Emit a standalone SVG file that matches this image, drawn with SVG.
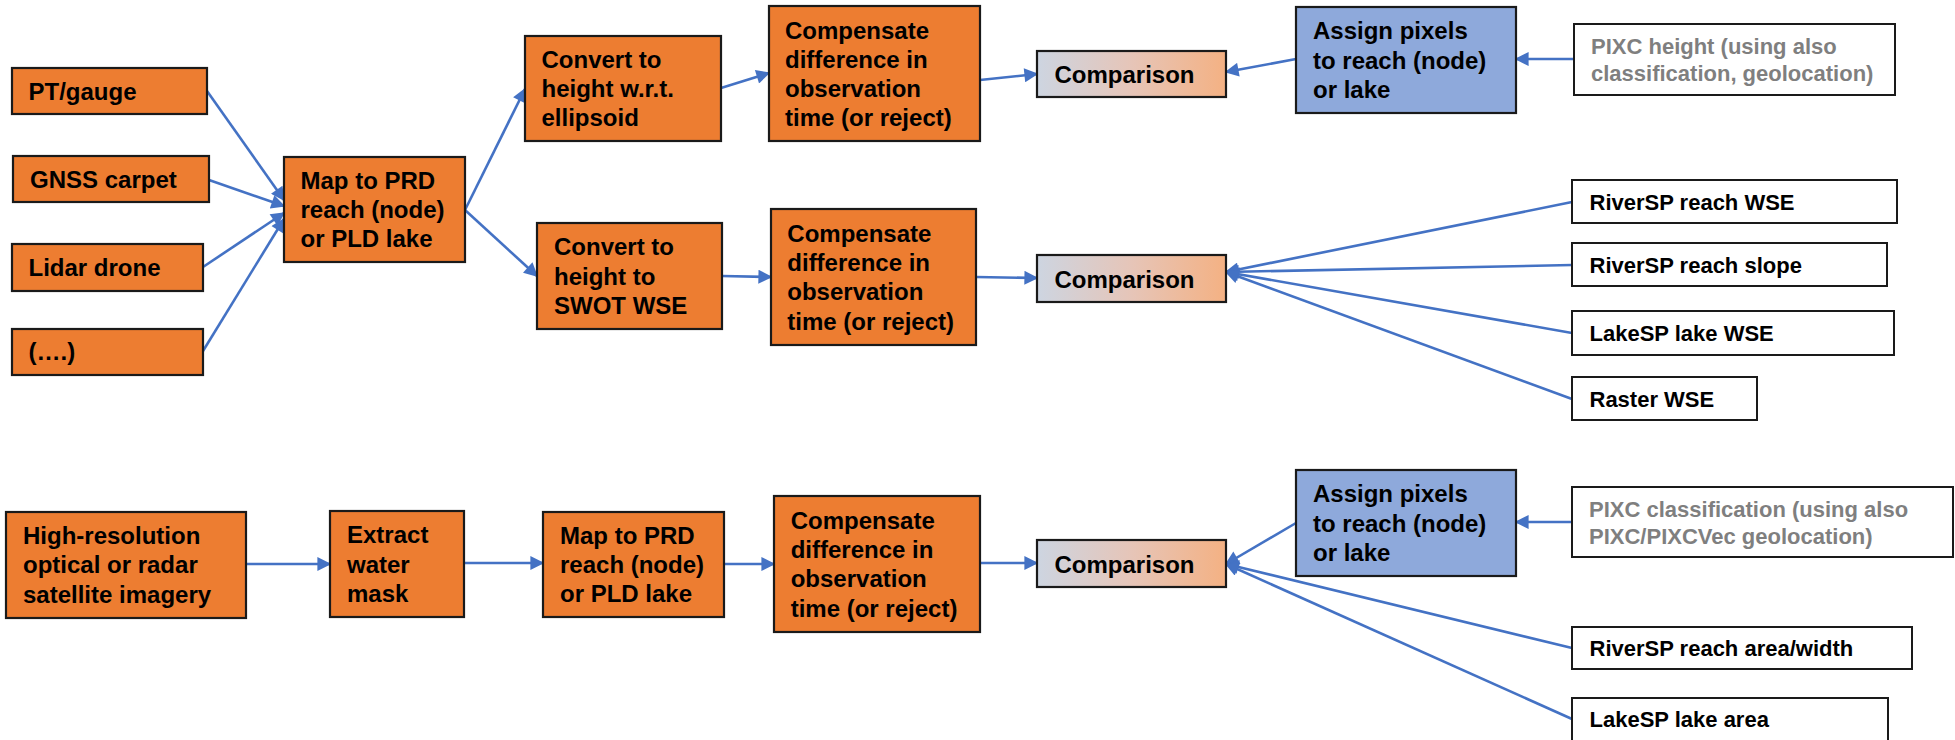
<svg xmlns="http://www.w3.org/2000/svg" width="1955" height="740" viewBox="0 0 1955 740">
<style>
text{font-family:"Liberation Sans",Arial,sans-serif;font-weight:bold;font-size:24px;fill:#000}
.o{fill:#ED7D31;stroke:#1a1a1a;stroke-width:2.2}
.b{fill:#8EA9DB;stroke:#1a1a1a;stroke-width:2.2}
.w{fill:#fff;stroke:#1a1a1a;stroke-width:2}
.c{fill:url(#grad);stroke:#1a1a1a;stroke-width:2.2}
.s{font-size:22px}
.g{font-size:22px;fill:#7F7F7F}
#edges line{stroke:#4472C4;stroke-width:2.6;marker-end:url(#ah)}
</style>
<defs>
<linearGradient id="grad" x1="0" y1="0" x2="1" y2="0">
<stop offset="0" stop-color="#CDD5E1"/>
<stop offset="0.5" stop-color="#E6C5B8"/>
<stop offset="1" stop-color="#F4B183"/>
</linearGradient>
<marker id="ah" viewBox="0 0 10 10" refX="9" refY="5" markerUnits="userSpaceOnUse" markerWidth="16" markerHeight="14" orient="auto">
<path d="M0,0 L10,5 L0,10 z" fill="#4472C4"/>
</marker>
</defs>
<rect width="1955" height="740" fill="#fff"/>

<g id="edges">
<line x1="207" y1="91" x2="284" y2="200"/>
<line x1="209" y1="180" x2="284" y2="206"/>
<line x1="203" y1="267" x2="284" y2="213"/>
<line x1="203" y1="351" x2="284" y2="219"/>
<line x1="465" y1="210" x2="525" y2="89"/>
<line x1="465" y1="210" x2="537" y2="276"/>
<line x1="721" y1="88" x2="769" y2="73"/>
<line x1="722" y1="276" x2="771" y2="277"/>
<line x1="980" y1="80" x2="1037" y2="74"/>
<line x1="976" y1="277" x2="1037" y2="278"/>
<line x1="1296" y1="59" x2="1226" y2="72"/>
<line x1="1574" y1="59" x2="1516" y2="59"/>
<line x1="1572" y1="202" x2="1226" y2="272"/>
<line x1="1572" y1="265" x2="1226" y2="272"/>
<line x1="1572" y1="333" x2="1226" y2="272"/>
<line x1="1572" y1="399" x2="1226" y2="272"/>
<line x1="246" y1="564" x2="330" y2="564"/>
<line x1="464" y1="563" x2="543" y2="563"/>
<line x1="724" y1="564" x2="774" y2="564"/>
<line x1="980" y1="563" x2="1037" y2="563"/>
<line x1="1296" y1="523" x2="1226" y2="564"/>
<line x1="1572" y1="522" x2="1516" y2="522"/>
<line x1="1572" y1="648" x2="1226" y2="564"/>
<line x1="1572" y1="719" x2="1226" y2="564"/>
</g>

<g id="pt"><rect class="o" x="12" y="68" width="195" height="46"/><text x="28.5" y="100">PT/gauge</text></g>
<g id="gnss"><rect class="o" x="13" y="156" width="196" height="46"/><text x="30" y="188">GNSS carpet</text></g>
<g id="lidar"><rect class="o" x="12" y="244" width="191" height="47"/><text x="28.5" y="276">Lidar drone</text></g>
<g id="etc"><rect class="o" x="12" y="329" width="191" height="46"/><text x="28.5" y="360">(….)</text></g>

<g id="map1"><rect class="o" x="284" y="157" width="181" height="105"/>
<text x="300.5" y="188.5">Map to PRD</text><text x="300.5" y="218">reach (node)</text><text x="300.5" y="247.3">or PLD lake</text></g>

<g id="conv1"><rect class="o" x="525" y="36" width="196" height="105"/>
<text x="541.5" y="67.5">Convert to</text><text x="541.5" y="97">height w.r.t.</text><text x="541.5" y="126.3">ellipsoid</text></g>

<g id="conv2"><rect class="o" x="537" y="223" width="185" height="106"/>
<text x="554" y="255">Convert to</text><text x="554" y="284.5">height to</text><text x="554" y="313.8">SWOT WSE</text></g>

<g id="comp1"><rect class="o" x="769" y="6" width="211" height="135"/>
<text x="785" y="38.5">Compensate</text><text x="785" y="67.8">difference in</text><text x="785" y="97">observation</text><text x="785" y="126.3">time (or reject)</text></g>

<g id="comp2"><rect class="o" x="771" y="209" width="205" height="136"/>
<text x="787.3" y="241.8">Compensate</text><text x="787.3" y="271">difference in</text><text x="787.3" y="300.3">observation</text><text x="787.3" y="329.6">time (or reject)</text></g>

<g id="cmp1"><rect class="c" x="1037" y="51" width="189" height="46"/><text x="1054.5" y="83">Comparison</text></g>
<g id="cmp2"><rect class="c" x="1037" y="255" width="189" height="47"/><text x="1054.5" y="287.5">Comparison</text></g>

<g id="assign1"><rect class="b" x="1296" y="7" width="220" height="106"/>
<text x="1313" y="39.2">Assign pixels</text><text x="1313" y="68.5">to reach (node)</text><text x="1313" y="97.8">or lake</text></g>

<g id="pixc1"><rect class="w" x="1574" y="24" width="321" height="71"/>
<text class="g" x="1591" y="54">PIXC height (using also</text><text class="g" x="1591" y="81">classification, geolocation)</text></g>

<g id="rwse"><rect class="w" x="1572" y="180" width="325" height="43"/><text class="s" x="1589.5" y="210">RiverSP reach WSE</text></g>
<g id="rslope"><rect class="w" x="1572" y="243" width="315" height="43"/><text class="s" x="1589.5" y="272.5">RiverSP reach slope</text></g>
<g id="lwse"><rect class="w" x="1572" y="311" width="322" height="44"/><text class="s" x="1589.5" y="341">LakeSP lake WSE</text></g>
<g id="raster"><rect class="w" x="1572" y="377" width="185" height="43"/><text class="s" x="1589.5" y="406.5">Raster WSE</text></g>

<g id="hires"><rect class="o" x="6" y="512" width="240" height="106"/>
<text x="23" y="544">High-resolution</text><text x="23" y="573.3">optical or radar</text><text x="23" y="602.6">satellite imagery</text></g>

<g id="extract"><rect class="o" x="330" y="511" width="134" height="106"/>
<text x="347" y="543.2">Extract</text><text x="347" y="572.5">water</text><text x="347" y="601.8">mask</text></g>

<g id="map2"><rect class="o" x="543" y="512" width="181" height="105"/>
<text x="560" y="543.7">Map to PRD</text><text x="560" y="573">reach (node)</text><text x="560" y="602.3">or PLD lake</text></g>

<g id="comp3"><rect class="o" x="774" y="496" width="206" height="136"/>
<text x="790.7" y="528.6">Compensate</text><text x="790.7" y="557.9">difference in</text><text x="790.7" y="587.2">observation</text><text x="790.7" y="616.5">time (or reject)</text></g>

<g id="cmp3"><rect class="c" x="1037" y="540" width="189" height="47"/><text x="1054.5" y="572.5">Comparison</text></g>

<g id="assign2"><rect class="b" x="1296" y="470" width="220" height="106"/>
<text x="1313" y="502.2">Assign pixels</text><text x="1313" y="531.5">to reach (node)</text><text x="1313" y="560.8">or lake</text></g>

<g id="pixc2"><rect class="w" x="1572" y="487" width="381" height="70"/>
<text class="g" x="1589" y="516.5">PIXC classification (using also</text><text class="g" x="1589" y="543.5">PIXC/PIXCVec geolocation)</text></g>

<g id="rarea"><rect class="w" x="1572" y="627" width="340" height="42"/><text class="s" x="1589.5" y="656">RiverSP reach area/width</text></g>
<g id="larea"><rect class="w" x="1572" y="698" width="316" height="50"/><text class="s" x="1589.5" y="727">LakeSP lake area</text></g>
</svg>
